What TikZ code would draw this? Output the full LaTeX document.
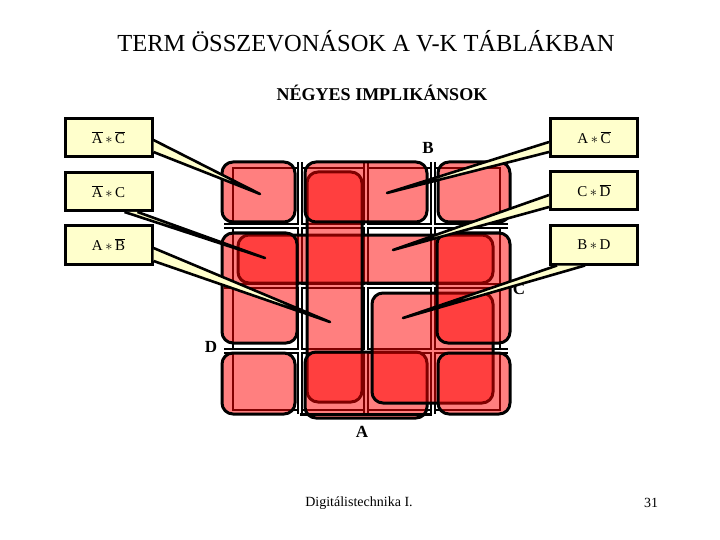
\documentclass[tikz,border=0pt]{standalone}
\usepackage{fontspec}
\setmainfont{Liberation Serif}
\definecolor{ink}{HTML}{000000}
\definecolor{note}{HTML}{FFFFCC}
\definecolor{grpfill}{HTML}{FF0000}
\newcommand{\nega}[1]{\ensuremath{\overline{\mbox{#1}}}}
\newcommand{\es}{\,\ensuremath{\ast}\,}

\begin{document}
\begin{tikzpicture}[x=1pt,y=-1pt,
  term/.style={draw=ink, line width=3pt, fill=note, minimum width=87pt, minimum height=38pt, inner sep=0pt, font=\fontsize{15}{17}\selectfont},
  ptr/.style={draw=ink, line width=2.6pt, fill=note, line join=round},
  grp/.style={draw=ink, line width=3pt, fill=grpfill, fill opacity=0.5, rounded corners=11pt},
  gridout/.style={draw=ink, line width=6pt},
  gridin/.style={draw=white, line width=2.5pt},
  var/.style={font=\fontsize{17}{19}\selectfont\bfseries},
]
\useasboundingbox (0,0) rectangle (720,540);

% headings
\node (title) at (366,41) {\fontsize{24.5}{28}\selectfont TERM ÖSSZEVONÁSOK A V-K TÁBLÁKBAN};
\node (sub) at (382,93) {\fontsize{18}{20}\selectfont\bfseries NÉGYES IMPLIKÁNSOK};

% --- K-map grid ---
\draw[line width=1.5pt] (233,168) rectangle (500,410);
\foreach \gx in {300,366,433} \draw[gridout] (\gx,162) -- (\gx,414);
\foreach \gy in {226,286,351} \draw[gridout] (224,\gy) -- (508,\gy);
\foreach \gx in {300,366,433} \draw[gridin] (\gx,162) -- (\gx,414);
\foreach \gy in {226,286,351} \draw[gridin] (224,\gy) -- (508,\gy);

% variable labels
\node[var] (vb) at (428,148) {B};
\node[var] (vc) at (519,289) {C};
\node[var] (vd) at (211,347) {D};
\node[var] (va) at (362,432) {A};

% --- four-cell groups ---
% C*notD: second row
\draw[grp] (238,235) rectangle (493,283);
% A*notB: second column
\draw[grp] (307,172) rectangle (362,402);
% A*notC: top and bottom of the middle columns
\draw[grp] (305,162) rectangle (427,222);
\draw[grp] (305,352) rectangle (427,418);
% B*D: lower right block
\draw[grp] (372,293) rectangle (493,403);
% notA*C: outer columns, middle rows
\draw[grp] (222,233) rectangle (297,343);
\draw[grp] (437,233) rectangle (510,343);
% notA*notC: the four corners
\draw[grp] (222,162) rectangle (295,222);
\draw[grp] (438,162) rectangle (510,222);
\draw[grp] (222,353) rectangle (295,414);
\draw[grp] (438,353) rectangle (510,414);
\draw[line width=3pt] (300,414) -- (432,414);

% --- term boxes ---
\node[term] (nanc) at (108.5,137.5) {\nega{A}\es\nega{C}};
\node[term] (nac)  at (108.5,191.5) {\nega{A}\es C};
\node[term] (anb)  at (108.5,245)   {A\es\nega{B}};
\node[term] (anc)  at (594,138)     {A\es\nega{C}};
\node[term] (cnd)  at (594,191)     {C\es\nega{D}};
\node[term] (bd)   at (594,245)     {B\es D};

% pointer tips inside the map
\coordinate (tnanc) at (260,194);
\coordinate (tnac)  at (265,258);
\coordinate (tanb)  at (330,322);
\coordinate (tanc)  at (387,193);
\coordinate (tcnd)  at (393,250);
\coordinate (tbd)   at (403,318);

% --- pointers ---
\draw[ptr] ([yshift=-2.5pt]nanc.east) -- (tnanc) -- ([yshift=-14.5pt]nanc.east);
\draw[ptr] ([xshift=16pt]nac.south) -- (tnac) -- ([xshift=29pt]nac.south);
\draw[ptr] ([yshift=-3pt]anb.east) -- (tanb) -- ([yshift=-16pt]anb.east);
\draw[ptr] ([yshift=-4pt]anc.west) -- (tanc) -- ([yshift=-14pt]anc.west);
\draw[ptr] ([yshift=-4pt]cnd.west) -- (tcnd) -- ([yshift=-16pt]cnd.west);
\draw[ptr] ([xshift=-37pt]bd.south) -- (tbd) -- ([xshift=-9pt]bd.south);

% footer
\node (foot) at (359,503) {\fontsize{14}{16}\selectfont Digitálistechnika I.};
\node (page) at (651,503) {\fontsize{14}{16}\selectfont 31};
\end{tikzpicture}
\end{document}
